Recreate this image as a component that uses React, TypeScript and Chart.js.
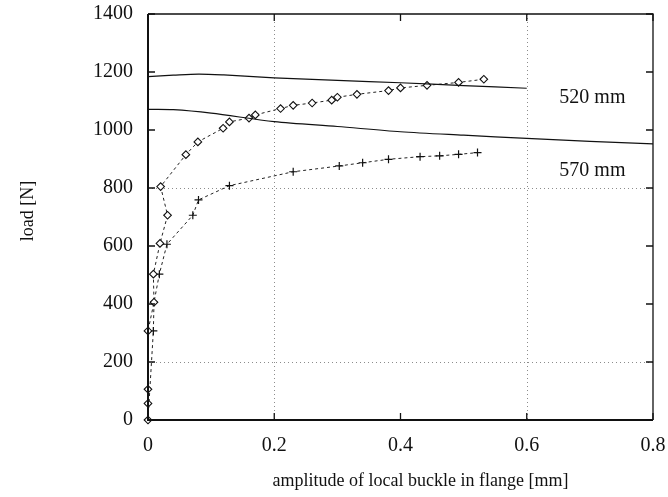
import React, { useEffect, useRef } from 'react';
import { Chart, registerables } from 'chart.js';

Chart.register(...registerables);

// measured series (amplitude [mm], load [N])
const diamondX = [0, 0, 0, 0, 0.0095, 0.0085, 0.019, 0.031, 0.020, 0.060, 0.079, 0.119, 0.129, 0.160, 0.170, 0.210, 0.230, 0.260, 0.291, 0.300, 0.331, 0.381, 0.400, 0.442, 0.492, 0.532];
const diamondY = [0, 57, 106, 307, 406, 503, 609, 706, 805, 915, 959, 1006, 1028, 1041, 1052, 1074, 1085, 1093, 1103, 1113, 1123, 1136, 1145, 1154, 1164, 1175];
const plusX = [0, 0.0085, 0.0095, 0.018, 0.030, 0.071, 0.080, 0.129, 0.230, 0.303, 0.340, 0.381, 0.431, 0.462, 0.492, 0.522];
const plusY = [0, 307, 406, 503, 606, 706, 759, 808, 856, 876, 887, 899, 908, 911, 916, 922];

// theoretical curves
const curve520X = [0, 0.04, 0.08, 0.12, 0.2, 0.3, 0.4, 0.5, 0.6];
const curve520Y = [1184, 1189, 1193, 1190, 1180, 1171, 1163, 1153, 1144];
const curve570X = [0, 0.04, 0.1, 0.2, 0.3, 0.4, 0.5, 0.6, 0.7, 0.8];
const curve570Y = [1071, 1070, 1058, 1029, 1012, 994, 982, 971, 961, 952];

// axes
const xTicks = [0, 0.2, 0.4, 0.6, 0.8];
const yTicks = [0, 200, 400, 600, 800, 1000, 1200, 1400];
const gridX = [0.2, 0.6];
const gridY = [200, 800];

// curve annotations
const noteText = ['520 mm', '570 mm'];
const noteX = [0.704, 0.704];
const noteY = [1112, 860];

const xTitle = 'amplitude of local buckle in flange [mm]';
const yTitle = 'load [N]';

const FONT = "'Liberation Serif', 'DejaVu Serif', serif";
const INK = '#111';

const toPts = (xs: number[], ys: number[]) => xs.map((v, i) => ({ x: v, y: ys[i] }));

const framePlugin = {
  id: 'frameAndNotes',
  beforeDatasetsDraw(chart: any) {
    const { ctx, chartArea: a, scales } = chart;
    const x = scales.x, y = scales.y;
    ctx.save();
    ctx.strokeStyle = '#8c8c8c';
    ctx.lineWidth = 1;
    ctx.setLineDash([1, 3]);
    gridX.forEach((v) => {
      const px = Math.round(x.getPixelForValue(v)) + 0.5;
      ctx.beginPath(); ctx.moveTo(px, a.top); ctx.lineTo(px, a.bottom); ctx.stroke();
    });
    gridY.forEach((v) => {
      const py = Math.round(y.getPixelForValue(v)) + 0.5;
      ctx.beginPath(); ctx.moveTo(a.left, py); ctx.lineTo(a.right, py); ctx.stroke();
    });
    ctx.restore();
  },
  afterDatasetsDraw(chart: any) {
    const { ctx, chartArea: a, scales } = chart;
    const x = scales.x, y = scales.y;
    ctx.save();
    ctx.setLineDash([]);
    ctx.strokeStyle = INK;
    // frame
    ctx.lineWidth = 1.3;
    ctx.beginPath();
    ctx.moveTo(a.left, a.top); ctx.lineTo(a.right, a.top); ctx.lineTo(a.right, a.bottom);
    ctx.stroke();
    ctx.lineWidth = 2;
    ctx.beginPath();
    ctx.moveTo(a.left, a.top); ctx.lineTo(a.left, a.bottom); ctx.lineTo(a.right, a.bottom);
    ctx.stroke();
    // inward ticks
    const tl = 7;
    ctx.lineWidth = 1.3;
    xTicks.forEach((v) => {
      const px = x.getPixelForValue(v);
      ctx.beginPath();
      ctx.moveTo(px, a.bottom); ctx.lineTo(px, a.bottom - tl);
      ctx.moveTo(px, a.top); ctx.lineTo(px, a.top + tl);
      ctx.stroke();
    });
    yTicks.forEach((v) => {
      const py = y.getPixelForValue(v);
      ctx.beginPath();
      ctx.moveTo(a.left, py); ctx.lineTo(a.left + tl, py);
      ctx.moveTo(a.right, py); ctx.lineTo(a.right - tl, py);
      ctx.stroke();
    });
    // annotations
    ctx.fillStyle = INK;
    ctx.font = `20px ${FONT}`;
    ctx.textAlign = 'center';
    ctx.textBaseline = 'middle';
    noteText.forEach((t, i) => {
      ctx.fillText(t, x.getPixelForValue(noteX[i]), y.getPixelForValue(noteY[i]));
    });
    // axis titles
    ctx.font = `18px ${FONT}`;
    ctx.fillText(xTitle, (a.left + a.right) / 2 + 20, 481);
    ctx.translate(28, (a.top + a.bottom) / 2 - 6);
    ctx.rotate(-Math.PI / 2);
    ctx.fillText(yTitle, 0, 0);
    ctx.restore();
  },
};

export default function App() {
  const ref = useRef<HTMLCanvasElement | null>(null);

  useEffect(() => {
    if (!ref.current) return;
    const chart = new Chart(ref.current, {
      type: 'scatter',
      data: {
        datasets: [
          {
            label: '520 mm theory',
            data: toPts(curve520X, curve520Y),
            showLine: true,
            borderColor: INK,
            borderWidth: 1.2,
            pointRadius: 0,
            tension: 0.3,
          },
          {
            label: '570 mm theory',
            data: toPts(curve570X, curve570Y),
            showLine: true,
            borderColor: INK,
            borderWidth: 1.2,
            pointRadius: 0,
            tension: 0.3,
          },
          {
            label: '520 mm test',
            data: toPts(diamondX, diamondY),
            showLine: true,
            clip: false,
            borderColor: '#222',
            borderWidth: 1,
            borderDash: [3, 3],
            pointStyle: 'rectRot',
            pointRadius: 3.8,
            pointBorderWidth: 1.1,
            pointBorderColor: INK,
            pointBackgroundColor: '#fff',
            tension: 0,
          },
          {
            label: '570 mm test',
            data: toPts(plusX, plusY),
            showLine: true,
            clip: false,
            borderColor: '#222',
            borderWidth: 1,
            borderDash: [3, 3],
            pointStyle: 'cross',
            pointRadius: 4,
            pointBorderWidth: 1.2,
            pointBorderColor: INK,
            tension: 0,
          },
        ],
      },
      options: {
        animation: false,
        responsive: true,
        maintainAspectRatio: false,
        layout: { padding: { left: 0, top: 14, right: 15, bottom: 0 } },
        plugins: { legend: { display: false }, tooltip: { enabled: false } },
        scales: {
          x: {
            type: 'linear',
            min: 0,
            max: 0.8,
            afterBuildTicks: (s: any) => { s.ticks = xTicks.map((v) => ({ value: v })); },
            afterFit: (s: any) => { s.height = 77; s.paddingLeft = 0; s.paddingRight = 0; },
            grid: { display: false, drawTicks: false },
            border: { display: false },
            ticks: {
              padding: 14,
              color: INK,
              font: { family: FONT, size: 20 },
              callback: (v: any) => String(Math.round(Number(v) * 10) / 10),
            },
          },
          y: {
            type: 'linear',
            min: 0,
            max: 1400,
            afterBuildTicks: (s: any) => { s.ticks = yTicks.map((v) => ({ value: v })); },
            afterFit: (s: any) => { s.width = 148; s.paddingTop = 0; s.paddingBottom = 0; },
            grid: { display: false, drawTicks: false },
            border: { display: false },
            ticks: {
              padding: 15,
              color: INK,
              font: { family: FONT, size: 20 },
              callback: (v: any) => String(v),
            },
          },
        },
      },
      plugins: [framePlugin],
    });
    return () => chart.destroy();
  }, []);

  return (
    <div style={{ position: 'fixed', left: 0, top: 0, width: 668, height: 497, background: '#fff' }}>
      <canvas ref={ref} />
    </div>
  );
}
